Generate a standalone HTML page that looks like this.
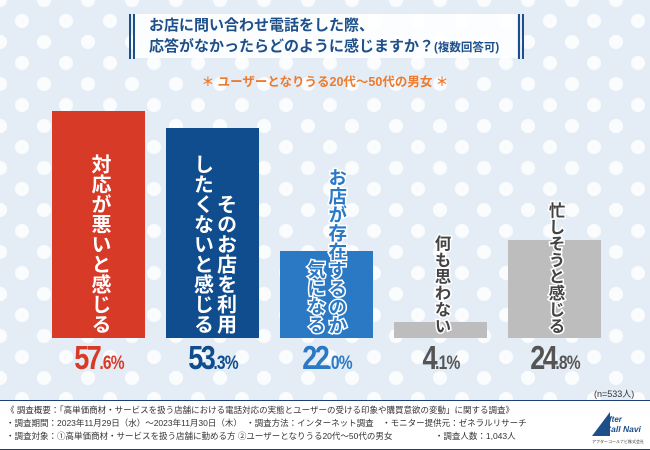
<!DOCTYPE html>
<html><head><meta charset="utf-8">
<style>
*{margin:0;padding:0;box-sizing:border-box}
body{width:650px;height:450px;overflow:hidden;font-family:"Liberation Sans","Noto Sans CJK JP",sans-serif}
#root{position:relative;width:650px;height:450px;background-color:#e4edf6;
background-image:radial-gradient(circle,#fbfcfe 6.5px,transparent 7.5px),radial-gradient(circle,#fbfcfe 6.5px,transparent 7.5px);
background-size:44px 42px;background-position:0 0,22px 21px;overflow:hidden}
.abs{position:absolute}
#title{left:135px;top:14px;width:382px;height:44px;background:rgba(255,255,255,0.85);color:#1d4f8a;font-weight:bold;font-size:15px;line-height:21px;padding:1px 0 0 14px}
.vl{position:absolute;top:14px;width:2px;height:45px;background:#1d4f8a}
#sub{left:0;width:650px;top:71px;text-align:center;color:#ee7a2c;font-weight:bold;font-size:12.5px}
.bar{position:absolute}
.lab{position:absolute;writing-mode:vertical-rl;font-weight:bold;text-align:end;white-space:pre;paint-order:stroke fill}
.pct{position:absolute;font-weight:bold;text-align:center;width:120px;font-size:33px;letter-spacing:-3px;line-height:31px;transform:scaleX(0.82)}
.pct small{font-size:19px;letter-spacing:-1px}
#footer{left:0;top:400px;width:650px;height:50px;background:#fff;border-top:1.5px solid #1d3f73;border-bottom:1.5px solid #1d3f73}
#ftext{left:6px;top:404px;font-size:8.5px;line-height:13px;color:#333;white-space:pre}
</style></head><body>
<div id="root">
<div class="vl" style="left:129px"></div>
<div class="vl" style="left:133px"></div>
<div class="vl" style="left:518px"></div>
<div class="vl" style="left:522px"></div>
<div id="title" class="abs">お店に問い合わせ電話をした際、<br>応答がなかったらどのように感じますか？<span style="font-size:11.5px">(複数回答可)</span></div>
<div id="sub" class="abs">＊ ユーザーとなりうる20代〜50代の男女 ＊</div>
<div id="bars"></div>
<div class="abs" style="left:594px;top:387px;font-size:9px;color:#333">(n=533人)</div>
<div id="footer" class="abs"></div>
<div id="ftext" class="abs">《 調査概要：「高単価商材・サービスを扱う店舗における電話対応の実態とユーザーの受ける印象や購買意欲の変動」に関する調査》
・調査期間：2023年11月29日（水）〜2023年11月30日（木）　・調査方法：インターネット調査　・モニター提供元：ゼネラルリサーチ
・調査対象：①高単価商材・サービスを扱う店舗に勤める方 ②ユーザーとなりうる20代〜50代の男女　　　　　・調査人数：1,043人</div>
<svg class="abs" style="left:588px;top:408px" width="60" height="40">
<polygon points="4,28 22,4 22,28" fill="#1d4f8a"/>
<text x="21" y="14" font-size="8" font-style="italic" font-weight="bold" fill="#1d4f8a" font-family="Liberation Sans">fter</text>
<text x="17" y="24" font-size="8.5" font-style="italic" font-weight="bold" fill="#1d4f8a" font-family="Liberation Sans">Call Navi</text>
<text x="4" y="35" font-size="4" fill="#333" font-family="Liberation Sans">アフターコールナビ株式会社</text>
</svg>
</div>
<script>
const categories=["対応が悪いと感じる","そのお店を利用\nしたくないと感じる","お店が存在するのか\n気になる","何も思わない","忙しそうと感じる"];
const values=[57.6,53.3,22.0,4.1,24.8];
const barColors=["#d83a28","#0f4d8f","#2b78c5","#bdbdbd","#bdbdbd"];
const pctColors=["#d83a28","#0f4d8f","#2b78c5","#555","#555"];
const baseY=338, pxPer=3.94, x0=52, step=114, bw=93;
function yScale(v){return baseY-v*pxPer;}
function xScale(i){return x0+i*step;}
const host=document.getElementById('bars');
values.forEach((v,i)=>{
  const b=document.createElement('div');
  b.className='bar';
  
  
  const top=yScale(v);
  b.style.cssText=`left:${xScale(i)}px;top:${top}px;width:${bw}px;height:${baseY-top}px;background:${barColors[i]}`;
  host.appendChild(b);
  const l=document.createElement('div');
  l.className='lab';
  
  
  const fs=i<2?20:(i==2?18.5:16.5);
  const lines=categories[i].split('\n').length;
  const w=fs*1.15*lines;
  const cx=xScale(i)+bw/2;
  l.textContent=categories[i];
  const color=i<2?'#fff':(i==2?'#2b78c5':'#444');
  const stroke=i<2?'0px #fff':'3px #fff';
  l.style.cssText+=`;left:${cx-w/2}px;top:140px;height:194px;width:${w}px;font-size:${fs}px;line-height:${fs*1.15}px;color:${color};-webkit-text-stroke:${stroke}`;
  host.appendChild(l);
  const p=document.createElement('div');
  p.className='pct';
  
  
  const s=v.toFixed(1).split('.');
  p.innerHTML=s[0]+'<small>.'+s[1]+'%</small>';
  p.style.cssText+=`;left:${cx-60}px;top:342px;color:${pctColors[i]}`;
  host.appendChild(p);
});
</script>
</body></html>
